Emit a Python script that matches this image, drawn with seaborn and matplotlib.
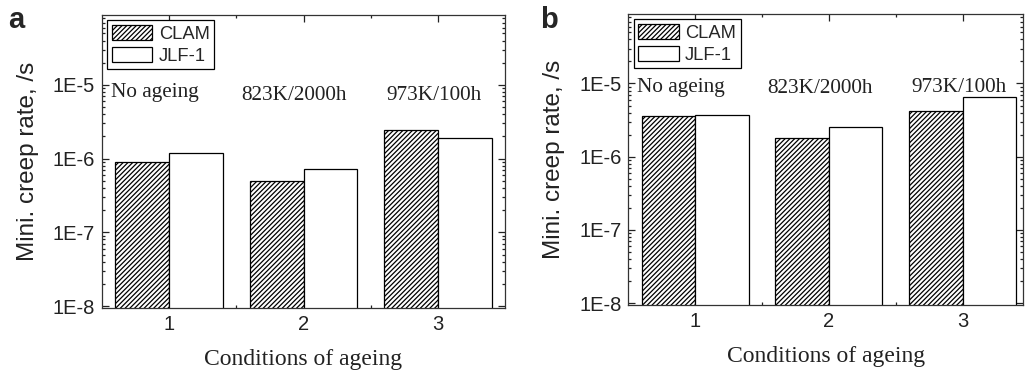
import numpy as np
import pandas as pd
import matplotlib
matplotlib.use('Agg')
import matplotlib.pyplot as plt
import matplotlib.ticker as mticker
import seaborn as sns

# data
conditions = ['1', '2', '3']
steels = ['CLAM', 'JLF-1']
notes = ['No ageing', '823K/2000h', '973K/100h']
rate_a_clam = [8.9e-7, 4.9e-7, 2.42e-6]
rate_a_jlf = [1.19e-6, 7.2e-7, 1.93e-6]
rate_b_clam = [3.62e-6, 1.82e-6, 4.2e-6]
rate_b_jlf = [3.7e-6, 2.54e-6, 6.46e-6]
ytick_vals = [1e-8, 1e-7, 1e-6, 1e-5]
ytick_labels = ['1E-8', '1E-7', '1E-6', '1E-5']

sns.set_style('ticks')
plt.rcParams['font.family'] = ['Liberation Sans', 'DejaVu Sans']
plt.rcParams['hatch.linewidth'] = 0.9
SERIF = ['Liberation Serif', 'DejaVu Serif']


def make_frame(clam, jlf):
    return pd.DataFrame({
        'cond': conditions * 2,
        'steel': [steels[0]] * 3 + [steels[1]] * 3,
        'rate': list(clam) + list(jlf),
    })


def draw_panel(ax, df, note_y, note_x, xmax):
    ax.set_yscale('log')
    sns.barplot(data=df, x='cond', y='rate', hue='steel', order=conditions,
                hue_order=steels, palette=['white', 'white'], edgecolor='black',
                linewidth=0.9, width=0.8, legend=False, ax=ax, saturation=1)
    for bar in ax.containers[0]:
        bar.set_hatch('///////')
    ax.set_ylim(9.4e-9, 8.9e-5)
    ax.set_xlim(-0.5, xmax)

    ax.yaxis.set_major_locator(mticker.FixedLocator(ytick_vals))
    ax.yaxis.set_major_formatter(mticker.FixedFormatter(ytick_labels))
    ax.yaxis.set_minor_locator(mticker.LogLocator(base=10, subs=np.arange(2, 10)))
    ax.yaxis.set_minor_formatter(mticker.NullFormatter())
    ax.xaxis.set_minor_locator(mticker.FixedLocator([0.5, 1.5]))

    ax.tick_params(which='both', direction='in', top=True, right=True,
                   labelsize=14.5, colors='#222222', width=0.9)
    ax.tick_params(which='major', length=5, pad=5)
    ax.tick_params(which='minor', length=2.5)
    for s in ax.spines.values():
        s.set_linewidth(0.9)
        s.set_color('#333333')

    ax.set_xlabel('Conditions of ageing', family=SERIF, fontsize=17,
                  color='#222222', labelpad=11)
    ax.set_ylabel('Mini. creep rate, /s', fontsize=17.5, color='#222222',
                  labelpad=10)

    for txt, xx, yy in zip(notes, note_x, note_y):
        ax.text(xx, yy, txt, family=SERIF, fontsize=15.3, ha='center',
                va='baseline', color='#222222')

    ax.legend(ax.containers, steels, loc='upper left', fontsize=13.2,
              frameon=True, fancybox=False, edgecolor='black', framealpha=1,
              borderaxespad=0.3, borderpad=0.25, handlelength=2.2,
              handleheight=0.9, handletextpad=0.35, labelspacing=0.2)
    ax.get_legend().get_frame().set_linewidth(0.9)


fig = plt.figure(figsize=(10.25, 3.71), dpi=100)
ax_a = fig.add_axes([0.0995, 0.1698, 0.3932, 0.7898])
ax_b = fig.add_axes([0.613, 0.1779, 0.385, 0.7844])

draw_panel(ax_a, make_frame(rate_a_clam, rate_a_jlf),
           [6.94e-6, 6.3e-6, 6.3e-6], [-0.11, 0.93, 1.97], 2.5)
draw_panel(ax_b, make_frame(rate_b_clam, rate_b_jlf),
           [7.7e-6, 7.4e-6, 7.7e-6], [-0.11, 0.93, 1.97], 2.45)

fig.text(0.008, 0.985, 'a', fontsize=21, fontweight='bold', va='top')
fig.text(0.527, 0.985, 'b', fontsize=21, fontweight='bold', va='top')

plt.savefig('out.png', dpi=100)
plt.close()
